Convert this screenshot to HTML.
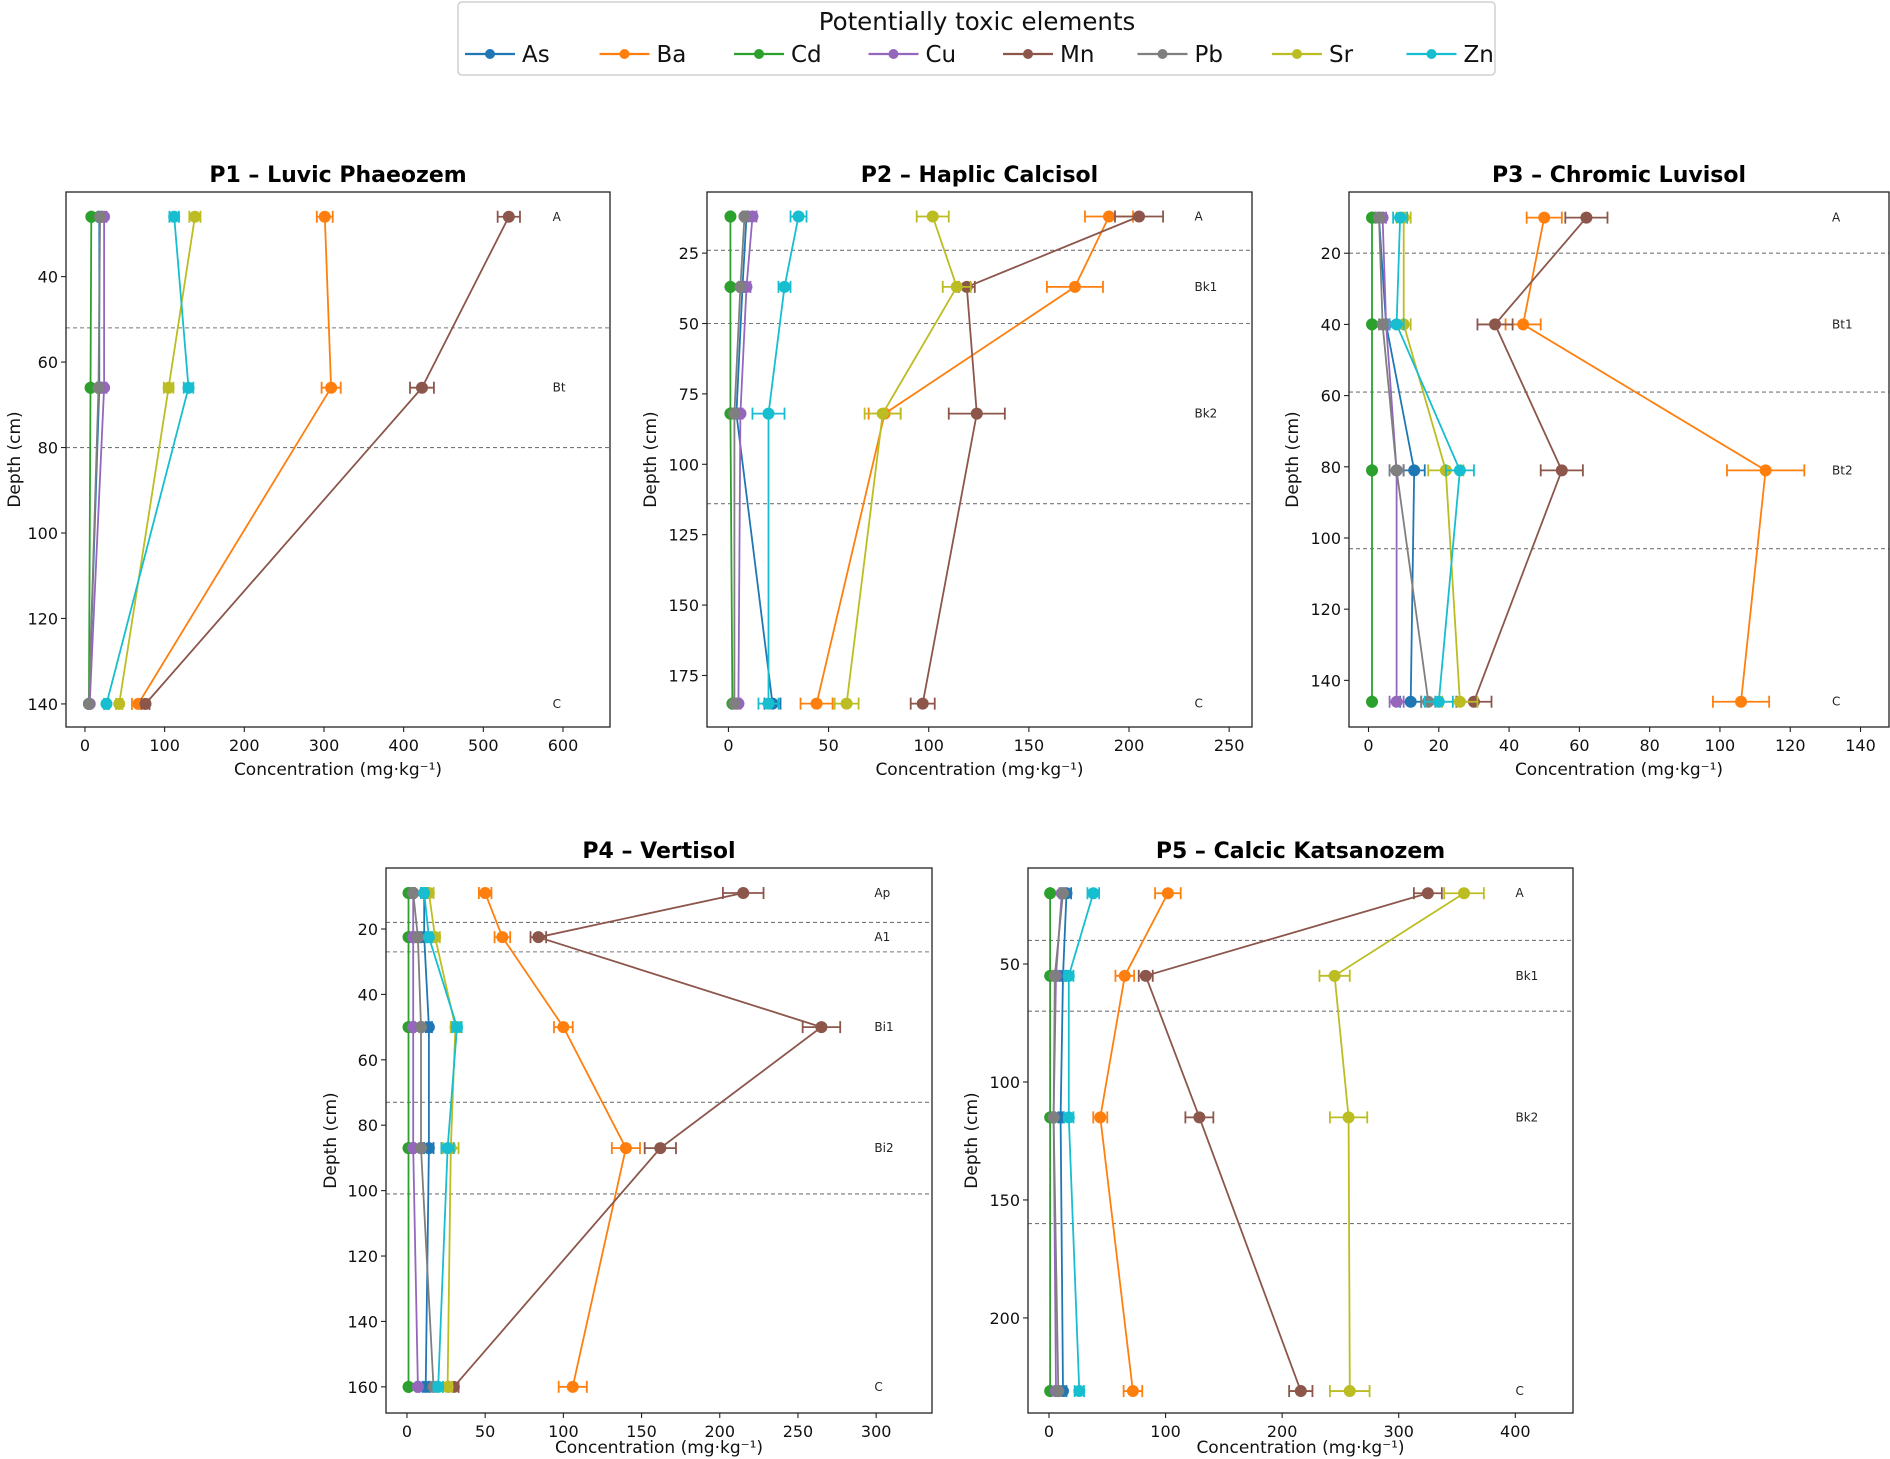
<!DOCTYPE html>
<html><head><meta charset="utf-8"><style>
body{margin:0;background:#fff;}
svg{display:block;font-family:"DejaVu Sans","Liberation Sans",sans-serif;}
</style></head><body>
<svg id="fig" width="1890" height="1459" viewBox="0 0 1890 1459" xmlns="http://www.w3.org/2000/svg">
<g>
<rect x="458" y="2" width="1037" height="73" rx="4" fill="#fff" stroke="#d0d0d0" stroke-width="1.5"/>
<text x="977" y="30" text-anchor="middle" font-size="24.5" fill="#111">Potentially toxic elements</text>
<g id="legendEntries"></g>
</g>
</svg>
<script>
const elements = ["As","Ba","Cd","Cu","Mn","Pb","Sr","Zn"];
const colors = ["#1f77b4","#ff7f0e","#2ca02c","#9467bd","#8c564b","#7f7f7f","#bcbd22","#17becf"];

// P1 – Luvic Phaeozem
const p1Depth = [26, 66, 140];
const p1Horizons = ["A","Bt","C"];
const p1Bounds = [52, 80];
const p1As = [18, 18, 5];
const p1Ba = [301, 309, 67];
const p1Cd = [8, 7, 5];
const p1Cu = [24, 24, 6];
const p1Mn = [532, 423, 76];
const p1Pb = [19, 17, 5];
const p1Sr = [138, 105, 43];
const p1Zn = [112, 130, 27];
const p1Err = [[2,2,1],[10,12,8],[1,1,1],[3,3,1],[14,15,5],[2,2,1],[7,6,4],[6,6,3]];
const p1XTicks = [0,100,200,300,400,500,600];
const p1YTicks = [40,60,80,100,120,140];

// P2 – Haplic Calcisol
const p2Depth = [12, 37, 82, 185];
const p2Horizons = ["A","Bk1","Bk2","C"];
const p2Bounds = [24, 50, 114];
const p2As = [9, 7, 4, 22];
const p2Ba = [190, 173, 78, 44];
const p2Cd = [1, 1, 1, 2];
const p2Cu = [12, 9, 6, 5];
const p2Mn = [205, 119, 124, 97];
const p2Pb = [8, 6, 3, 3];
const p2Sr = [102, 114, 77, 59];
const p2Zn = [35, 28, 20, 20];
const p2Err = [[1,1,1,4],[12,14,8,8],[0.5,0.5,0.5,0.5],[2,2,1,1],[12,4,14,6],[1,1,1,1],[8,7,9,6],[4,3,8,5]];
const p2XTicks = [0,50,100,150,200,250];
const p2YTicks = [25,50,75,100,125,150,175];

// P3 – Chromic Luvisol
const p3Depth = [10, 40, 81, 146];
const p3Horizons = ["A","Bt1","Bt2","C"];
const p3Bounds = [20, 59, 103];
const p3As = [3, 5, 13, 12];
const p3Ba = [50, 44, 113, 106];
const p3Cd = [1, 1, 1, 1];
const p3Cu = [4, 5, 8, 8];
const p3Mn = [62, 36, 55, 30];
const p3Pb = [3, 4, 8, 17];
const p3Sr = [10, 10, 22, 26];
const p3Zn = [9, 8, 26, 20];
const p3Err = [[1,1,3,3],[5,5,11,8],[0.2,0.2,0.2,0.2],[1,1,2,2],[6,5,6,5],[1,1,2,2],[2,2,5,5],[2,2,4,4]];
const p3XTicks = [0,20,40,60,80,100,120,140];
const p3YTicks = [20,40,60,80,100,120,140];

// P4 – Vertisol
const p4Depth = [9, 22.5, 50, 87, 160];
const p4Horizons = ["Ap","A1","Bi1","Bi2","C"];
const p4Bounds = [18, 27, 73, 101];
const p4As = [11, 11, 14, 14, 12];
const p4Ba = [50, 61, 100, 140, 106];
const p4Cd = [1, 1, 1, 1, 1];
const p4Cu = [4, 4, 4, 4, 7];
const p4Mn = [215, 84, 265, 162, 30];
const p4Pb = [4, 7, 9, 9, 17];
const p4Sr = [14, 18, 31, 28, 26];
const p4Zn = [11, 14, 32, 26, 20];
const p4Err = [[2,2,2,3,2],[4,5,6,9,9],[0.2,0.2,0.2,0.2,0.2],[1,1,1,1,1],[13,5,12,10,3],[1,1,1,1,2],[3,3,3,5,3],[2,2,3,4,3]];
const p4XTicks = [0,50,100,150,200,250,300];
const p4YTicks = [20,40,60,80,100,120,140,160];

// P5 – Calcic Katsanozem
const p5Depth = [20, 55, 115, 231];
const p5Horizons = ["A","Bk1","Bk2","C"];
const p5Bounds = [40, 70, 160];
const p5As = [15, 12, 10, 12];
const p5Ba = [102, 65, 44, 72];
const p5Cd = [1, 1, 1, 1];
const p5Cu = [11, 6, 4, 6];
const p5Mn = [325, 83, 129, 216];
const p5Pb = [12, 5, 4, 8];
const p5Sr = [356, 245, 257, 258];
const p5Zn = [38, 17, 17, 26];
const p5Err = [[4,3,2,3],[11,8,6,8],[0.3,0.3,0.3,0.3],[2,1,1,1],[12,6,12,10],[2,1,1,1],[17,13,16,17],[5,4,4,4]];
const p5XTicks = [0,100,200,300,400];
const p5YTicks = [50,100,150,200];

const panels = [
 {id:"p1",title:"P1 – Luvic Phaeozem",box:[66,192,610,727],xl:[-23.8,659],yl:[20.2,145.4],depth:p1Depth,hz:p1Horizons,bounds:p1Bounds,series:[p1As,p1Ba,p1Cd,p1Cu,p1Mn,p1Pb,p1Sr,p1Zn],err:p1Err,xt:p1XTicks,yt:p1YTicks,ylx:14,xlOff:48},
 {id:"p2",title:"P2 – Haplic Calcisol",box:[707,192,1252,727],xl:[-10.7,261.4],yl:[3.3,193.3],depth:p2Depth,hz:p2Horizons,bounds:p2Bounds,series:[p2As,p2Ba,p2Cd,p2Cu,p2Mn,p2Pb,p2Sr,p2Zn],err:p2Err,xt:p2XTicks,yt:p2YTicks,ylx:650,xlOff:48},
 {id:"p3",title:"P3 – Chromic Luvisol",box:[1349,192,1889,727],xl:[-5.55,148.1],yl:[2.8,153.1],depth:p3Depth,hz:p3Horizons,bounds:p3Bounds,series:[p3As,p3Ba,p3Cd,p3Cu,p3Mn,p3Pb,p3Sr,p3Zn],err:p3Err,xt:p3XTicks,yt:p3YTicks,ylx:1292,xlOff:48},
 {id:"p4",title:"P4 – Vertisol",box:[386,868,932,1413],xl:[-13.4,335.7],yl:[1.35,168],depth:p4Depth,hz:p4Horizons,bounds:p4Bounds,series:[p4As,p4Ba,p4Cd,p4Cu,p4Mn,p4Pb,p4Sr,p4Zn],err:p4Err,xt:p4XTicks,yt:p4YTicks,ylx:330,xlOff:40},
 {id:"p5",title:"P5 – Calcic Katsanozem",box:[1028,868,1573,1413],xl:[-18,449.5],yl:[9.3,240.3],depth:p5Depth,hz:p5Horizons,bounds:p5Bounds,series:[p5As,p5Ba,p5Cd,p5Cu,p5Mn,p5Pb,p5Sr,p5Zn],err:p5Err,xt:p5XTicks,yt:p5YTicks,ylx:971,xlOff:40}
];

const NS="http://www.w3.org/2000/svg";
const svg=document.getElementById("fig");
function mk(tag,attrs,parent){const e=document.createElementNS(NS,tag);for(const k in attrs)e.setAttribute(k,attrs[k]);(parent||svg).appendChild(e);return e;}

// legend entries
const lg=document.getElementById("legendEntries");
elements.forEach((el,i)=>{
  const x0=465+i*134.5, y=54;
  const g=mk("g",{},lg);
  
  
  mk("line",{x1:x0,y1:y,x2:x0+50,y2:y,stroke:colors[i],"stroke-width":2.2},g);
  mk("circle",{cx:x0+25,cy:y,r:5,fill:colors[i]},g);
  const t=mk("text",{x:x0+57,y:y+8,"font-size":23,fill:"#111"},g);
  t.textContent=el;
});

panels.forEach(p=>{
  const [L,T,R,B]=p.box;
  const sx=v=>L+(v-p.xl[0])/(p.xl[1]-p.xl[0])*(R-L);
  const sy=v=>T+(v-p.yl[0])/(p.yl[1]-p.yl[0])*(B-T);
  const g=mk("g",{});
  
  
  const clipId="clip-"+p.id;
  const cp=mk("clipPath",{id:clipId},g);
  mk("rect",{x:L,y:T,width:R-L,height:B-T},cp);
  const tt=mk("text",{x:(L+R)/2,y:T-10,"text-anchor":"middle","font-size":22,"font-weight":"bold",fill:"#000"},g);
  
  
  tt.textContent=p.title;
  p.bounds.forEach(b=>{
    const l=mk("line",{x1:L,x2:R,y1:sy(b),y2:sy(b),stroke:"#777","stroke-width":1.1,"stroke-dasharray":"4,3"},g);
    
    
  });
  p.hz.forEach((h,i)=>{
    const t=mk("text",{x:L+0.9*(R-L)-3,y:sy(p.depth[i])+4,"font-size":12,fill:"#222"},g);
    
    
    t.textContent=h;
  });
  const dg=mk("g",{"clip-path":"url(#"+clipId+")"},g);
  p.series.forEach((vals,si)=>{
    const c=colors[si];
    const sg=mk("g",{},dg);
    
    
    const pts=vals.map((v,i)=>sx(v).toFixed(1)+","+sy(p.depth[i]).toFixed(1)).join(" ");
    mk("polyline",{points:pts,fill:"none",stroke:c,"stroke-width":1.8},sg);
    vals.forEach((v,i)=>{
      const e=p.err[si][i], y=sy(p.depth[i]);
      const x1=sx(v-e), x2=sx(v+e);
      mk("line",{x1:x1,x2:x2,y1:y,y2:y,stroke:c,"stroke-width":1.8},sg);
      mk("line",{x1:x1,x2:x1,y1:y-6,y2:y+6,stroke:c,"stroke-width":1.8},sg);
      mk("line",{x1:x2,x2:x2,y1:y-6,y2:y+6,stroke:c,"stroke-width":1.8},sg);
      const m=mk("circle",{cx:sx(v),cy:y,r:6,fill:c},sg);
      
      
    });
  });
  const fr=mk("rect",{x:L,y:T,width:R-L,height:B-T,fill:"none",stroke:"#222","stroke-width":1.3},g);
  
  
  const xg=mk("g",{},g);
  
  
  p.xt.forEach(v=>{
    mk("line",{x1:sx(v),x2:sx(v),y1:B,y2:B+5,stroke:"#222","stroke-width":1.1},xg);
    const t=mk("text",{x:sx(v),y:B+24,"text-anchor":"middle","font-size":16,fill:"#111"},xg);
    t.textContent=v;
  });
  const xt=mk("text",{x:(L+R)/2,y:B+p.xlOff,"text-anchor":"middle","font-size":17,fill:"#111"},g);
  
  
  xt.textContent="Concentration (mg·kg⁻¹)";
  const yg=mk("g",{},g);
  
  
  p.yt.forEach(v=>{
    mk("line",{x1:L-5,x2:L,y1:sy(v),y2:sy(v),stroke:"#222","stroke-width":1.1},yg);
    const t=mk("text",{x:L-8,y:sy(v)+6,"text-anchor":"end","font-size":16,fill:"#111"},yg);
    t.textContent=v;
  });
  const cy=(T+B)/2;
  const yt=mk("text",{x:p.ylx,y:cy,"text-anchor":"middle","font-size":17,fill:"#111",transform:"rotate(-90 "+p.ylx+" "+cy+")",dy:"6"},g);
  
  
  yt.textContent="Depth (cm)";
});
</script>
</body></html>
